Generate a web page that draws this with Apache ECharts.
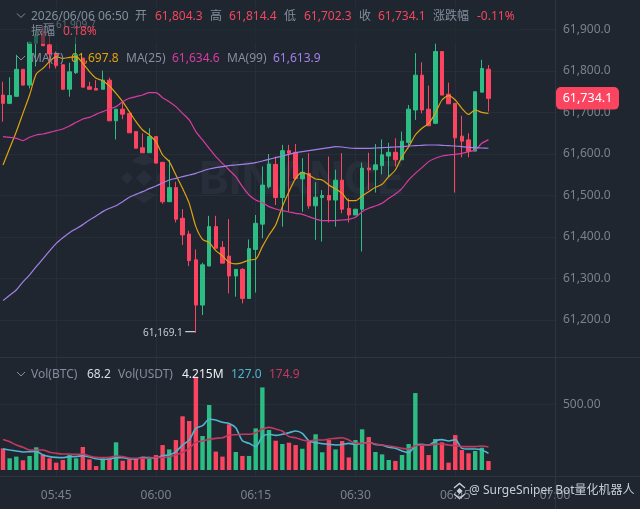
<!DOCTYPE html>
<html><head><meta charset="utf-8">
<style>html,body{margin:0;padding:0;background:#1f2630}#c{width:640px;height:509px}</style>
<script src="https://cdn.jsdelivr.net/npm/echarts@6/dist/echarts.min.js"></script>
</head><body><div id="c"></div>
<script>
const startMinute = 337; // 05:37
const xTickMinutes = [345,360,375,390,405,420];
const priceTicks = [61200,61300,61400,61500,61600,61700,61800,61900];
const volTicks = [500];
// [open, close, low, high]
const ohlc = [
[61742,61722,61678,61774],[61722,61741,61720,61785],[61739,61804,61738,61839],[61804,61766,61766,61804],
[61766,61869,61758,61871],[61867,61887,61811,61899],[61895,61861,61861,61909.7],[61863,61841,61806,61887],
[61843,61813,61806,61847],[61815,61756,61754,61815],[61756,61798,61738,61820],[61796,61839,61793,61883],
[61831,61761,61761,61831],[61762,61756,61756,61774],[61758,61754,61754,61778],[61756,61778,61756,61801],
[61778,61680,61680,61784],[61680,61708,61635,61708],[61708,61696,61684,61726],[61698,61651,61651,61698],
[61654,61614,61614,61654],[61615,61603,61603,61650],[61603,61642,61603,61662],[61642,61578,61578,61642],
[61580,61485,61480,61580],[61485,61519,61485,61586],[61519,61443,61435,61533],[61445,61405,61381,61467],
[61407,61343,61330,61415],[61345,61236,61169.1,61370],[61236,61333,61212,61338],[61330,61425,61330,61451],
[61425,61373,61373,61451],[61375,61337,61337,61390],[61354,61306,61264,61443],[61306,61322,61256,61322],
[61322,61252,61240,61325],[61252,61372,61252,61394],[61370,61433,61266,61453],[61431,61525,61397,61570],
[61521,61576,61517,61600],[61575,61495,61477,61594],[61495,61608,61425,61622],[61608,61602,61461,61622],
[61604,61541,61537,61624],[61540,61556,61461,61590],[61553,61475,61468,61602],[61475,61496,61393,61532],
[61495,61500,61389,61513],[61500,61489,61435,61594],[61489,61537,61425,61562],[61537,61467,61457,61602],
[61469,61453,61435,61493],[61453,61467,61453,61467],[61467,61566,61365,61579],[61566,61562,61513,61603],
[61562,61574,61507,61624],[61572,61598,61551,61635],[61595,61604,61545,61627],[61604,61586,61570,61638],
[61586,61631,61586,61654],[61628,61708,61618,61718],[61706,61790,61682,61843],[61790,61706,61698,61821],
[61708,61668,61668,61765],[61674,61847,61672,61867],[61847,61742,61742,61847],[61744,61721,61721,61772],
[61722,61639,61507,61722],[61643,61631,61592,61692],[61634,61606,61592,61650],[61607,61750,61607,61750],
[61749,61806,61749,61827],[61804.3,61734.1,61702.3,61814.4]];
const ma7 = [61573.5,61613.7,61653.8,61698,61742.2,61792.8,61806.4,61822.5,61834.6,61830.5,61833,61834.6,61818.5,61798.4,61782.4,61776.7,61763.9,61746.2,61726.1,61702,61677.9,61657.8,61645.8,61629.7,61597.6,61581.6,61549.4,61517.3,61481.1,61424.9,61394.4,61386.4,61367.1,61354.2,61339,61335,61338.2,61344.6,61346.2,61376.7,61404.8,61428.9,61473.1,61509.3,61541.4,61555.8,61549.4,61539.8,61537.4,61525.3,61515.7,61505.2,61487.6,61487.6,61498.8,61509.3,61519.7,61526.9,61545.4,61561.5,61593.6,61617.7,61645.8,61661.9,61673.9,61698,61730.1,61740.6,61730.1,61710.1,61695.6,61706,61700.4,61697.8];
const ma25 = [61641.8,61640.2,61637.8,61632.2,61640.2,61645.8,61648.2,61652.2,61656.2,61660.3,61667.5,61676.3,61684.4,61688.4,61695.6,61702,61708.5,61714.1,61726.1,61734.2,61738.2,61742.2,61747.8,61747.8,61735.8,61726.1,61714.1,61698,61682,61653.8,61633.8,61613.7,61593.6,61577.5,61561.5,61545.4,61521.3,61501.2,61489.2,61482.8,61473.1,61467.5,61463.5,61460.3,61457,61454.6,61449,61443.4,61439.4,61439.4,61439.4,61441,61442.6,61447.4,61461.1,61469.1,61474.7,61481.1,61493.2,61503.6,61517.3,61537.4,61553.4,61567.1,61581.6,61589.6,61595.2,61597.6,61599.2,61601.6,61605.6,61609.7,61625.7,61634.6];
const ma99 = [61246.6,61259.5,61272.3,61291.6,61308.5,61328.5,61347,61366.3,61384.8,61398.4,61410.5,61420.1,61429.8,61441,61450.6,61461.1,61469.1,61475.5,61485.2,61495.6,61502.8,61509.3,61516.5,61522.9,61530.1,61537.4,61541.4,61545.4,61549.4,61553.4,61559.1,61563.9,61567.1,61569.5,61571.9,61573.5,61575.1,61576.7,61579.1,61583.2,61587.2,61591.2,61595.2,61599.2,61603.2,61605.6,61608,61610.5,61612.9,61615.3,61617.7,61616.9,61614.5,61613.7,61613.7,61613.7,61614.5,61615.3,61616.1,61616.9,61617.7,61619.3,61620.1,61620.9,61621.7,61621.7,61620.9,61620.1,61619.3,61617.7,61616.1,61615.3,61614.5,61613.9];
const volume = [165,89,102,74,107,173,119,89,56,76,114,89,175,81,30,89,89,211,71,81,84,102,89,114,190,157,228,409,373,711,259,495,140,102,348,137,107,107,317,629,305,223,198,208,190,162,216,272,135,228,157,221,96,228,310,251,137,119,76,69,114,198,586,185,114,236,211,56,266,152,127,145,170,68.2];
const volMa5 = [160,152,145,137,140,142,114,102,96,94,102,102,109,99,86,81,84,94,94,84,84,94,94,91,109,114,140,190,228,317,338,386,381,363,355,322,223,203,178,254,272,264,272,284,297,279,221,208,201,195,190,195,203,195,203,211,195,190,173,165,145,132,185,195,190,221,231,221,231,165,160,160,152,127];
const volMa10 = [233,216,190,173,152,152,152,135,127,122,122,119,122,107,96,94,96,107,102,91,89,89,91,96,94,102,114,135,165,211,221,233,241,246,266,269,272,272,284,312,325,312,297,254,246,228,221,228,228,236,241,246,228,203,203,208,198,190,183,175,165,160,185,190,190,195,198,190,185,178,178,178,183,174.9];
const lastPrice = 61734.1;
const lowPrice = 61169.1, lowIndex = 29;
const highPrice = 61909.7, highIndex = 6;
const headerRow1 = [[31,'2026/06/06 06:50','#848e9c'],[135,'开','#848e9c'],[155,'61,804.3','#f6465d'],[210,'高','#848e9c'],[229,'61,814.4','#f6465d'],[284,'低','#848e9c'],[304,'61,702.3','#f6465d'],[359,'收','#848e9c'],[378,'61,734.1','#f6465d'],[433,'涨跌幅','#848e9c'],[477,'-0.11%','#f6465d']];
const headerRow2 = [[31,'振幅','#848e9c'],[63,'0.18%','#f6465d']];
const maRow = [[31,'MA(7)','#848e9c'],[71,'61,697.8','#e0a30f'],[126,'MA(25)','#848e9c'],[172,'61,634.6','#d93ba3'],[227,'MA(99)','#848e9c'],[273,'61,613.9','#a57fe8']];
const volRow = [[31,'Vol(BTC)','#848e9c'],[87,'68.2','#d8dce2'],[118,'Vol(USDT)','#848e9c'],[182,'4.215M','#eef0f3'],[231,'127.0','#4fb6cf'],[269,'174.9','#c23a62']];

const UP='#2cbd84', DOWN='#fb4560', BG='#1f2630', GRID='#272e39', BORDER='#2d3541', FONT='"Noto Sans","Noto Sans CJK SC",sans-serif';
const xs = ohlc.map((_,i)=>startMinute+i);
const fmtT = m => String(Math.floor(m/60)).padStart(2,'0')+':'+String(m%60).padStart(2,'0');
const fmtP = v => v.toLocaleString('en-US',{minimumFractionDigits:1,maximumFractionDigits:1});
const line=(name,arr,color,w,xi,yi,z)=>({name,type:'line',data:arr.map((v,i)=>[xs[i],v]),xAxisIndex:xi,yAxisIndex:yi,showSymbol:false,smooth:0.25,lineStyle:{color,width:w},z:z||3,silent:true});
const rows=[[17,headerRow1],[32,headerRow2],[59,maRow],[375,volRow]];
const gfx=[];
function dm(cx,cy,r,fill,z){return {type:'polygon',shape:{points:[[cx,cy-r],[cx+r,cy],[cx,cy+r],[cx-r,cy]]},style:{fill},z:z,silent:true};}
function chev(cx,cy,r,dx,dy,fill,z){
  const t=r*0.42;
  const pts=[[cx,cy+dy*r],[cx+r,cy],[cx+r-t,cy+dy*t],[cx,cy+dy*(r-t*2)],[cx-r+t,cy+dy*t],[cx-r,cy]];
  return {type:'polygon',shape:{points:pts},style:{fill},z:z,silent:true};
}
const wm='#282f3a';
gfx.push(dm(144,178,8,wm,0),dm(127,178,6,wm,0),dm(161,178,6,wm,0),chev(144,168,22,0,-0.7,wm,0),chev(144,188,22,0,0.7,wm,0));
gfx.push({type:'text',style:{x:199,y:180,text:'BINANCE',fill:wm,font:'bold 45px Inter,sans-serif',textVerticalAlign:'middle',letterSpacing:1},z:0,silent:true});
gfx.push({type:'rect',shape:{x:28,y:6,width:492,height:38},style:{fill:'rgba(31,38,48,0.62)'},z:20,silent:true});
rows.forEach(([y,items])=>items.forEach(([x,t,c])=>gfx.push({type:'text',style:{x,y,text:t,fill:c,font:'12px '+FONT,textVerticalAlign:'middle'},z:21,silent:true})));
[15.5,58,374].forEach(y=>gfx.push({type:'polyline',shape:{points:[[17,y-2],[21,y+2],[25,y-2]]},style:{stroke:'#848e9c',fill:'none',lineWidth:1},z:21,silent:true}));
[[0,357.5,640,357.5],[0,476.5,640,476.5],[555.5,0,555.5,509]].forEach(s=>gfx.push({type:'line',shape:{x1:s[0],y1:s[1],x2:s[2],y2:s[3]},style:{stroke:BORDER,lineWidth:1},z:1,silent:true}));
gfx.push({type:'text',style:{x:469,y:491,text:'@ SurgeSniper Bot量化机器人',fill:'#c9ced6',font:'12px '+FONT,textVerticalAlign:'middle'},z:21,silent:true});
gfx.push(dm(459.5,491,3,'#c9ced6',21));
gfx.push({type:'polyline',shape:{points:[[454,488],[459.5,483.5],[465,488]]},style:{stroke:'#c9ced6',fill:'none',lineWidth:1.4},z:21,silent:true});
gfx.push({type:'polyline',shape:{points:[[454,494],[459.5,498.5],[465,494]]},style:{stroke:'#c9ced6',fill:'none',lineWidth:1.4},z:21,silent:true});

const chart=echarts.init(document.getElementById('c'),null,{renderer:'canvas'});
const xCommon={type:'value',min:336.55,max:420,axisLine:{show:false},axisTick:{show:false,customValues:xTickMinutes},splitLine:{show:true,lineStyle:{color:GRID,width:1}}};
const hidden={symbol:'circle',symbolSize:1,itemStyle:{color:'rgba(0,0,0,0)'}};
chart.setOption({
  animation:false,backgroundColor:BG,textStyle:{fontFamily:FONT},
  grid:[{left:0,top:0,width:555,height:358},{left:0,top:358,width:555,height:119}],
  xAxis:[
    {...xCommon,gridIndex:0,axisLabel:{show:false}},
    {...xCommon,gridIndex:1,axisLabel:{show:true,color:'#7a828e',fontSize:12,margin:13,customValues:xTickMinutes,formatter:v=>fmtT(v),hideOverlap:false}}
  ],
  yAxis:[
    {type:'value',gridIndex:0,position:'right',min:61108.4,max:61971.1,scale:true,axisLine:{show:false},axisTick:{show:false,customValues:priceTicks},splitLine:{show:true,lineStyle:{color:GRID}},axisLabel:{color:'#7a828e',fontSize:12,margin:8,customValues:priceTicks,formatter:v=>fmtP(v)}},
    {type:'value',gridIndex:1,position:'right',min:-53.3,max:853,axisLine:{show:false},axisTick:{show:false,customValues:volTicks},splitLine:{show:true,lineStyle:{color:GRID}},axisLabel:{color:'#7a828e',fontSize:12,margin:8,customValues:volTicks,formatter:v=>v.toFixed(2)}}
  ],
  series:[
    {name:'K',type:'candlestick',xAxisIndex:0,yAxisIndex:0,barWidth:4,clip:false,silent:true,z:2,
      data:ohlc.map((d,i)=>[xs[i],d[0],d[1],d[2],d[3]]),
      itemStyle:{color:UP,color0:DOWN,borderColor:UP,borderColor0:DOWN,borderWidth:1},
      markPoint:{silent:true,animation:false,data:[
        {coord:[xs[73],lastPrice],...hidden,label:{show:true,position:'inside',offset:[99,0],formatter:fmtP(lastPrice),color:'#fff',fontSize:12.5,backgroundColor:'#fb4560',borderRadius:5,padding:[5,5,5,5],width:53,align:'center',verticalAlign:'middle'}},
        {coord:[xs[lowIndex],lowPrice],...hidden,label:{show:true,position:'left',distance:0,formatter:'61,169.1 ━',color:'#c8ccd2',fontSize:10}},
        {coord:[xs[highIndex],highPrice],...hidden,label:{show:true,position:'right',distance:0,formatter:'━ 61,909.7',color:'#c8ccd2',fontSize:10}}
      ]}},
    line('MA7',ma7,'#e0a30f',1.2,0,0),
    line('MA25',ma25,'#d93ba3',1.2,0,0),
    line('MA99',ma99,'#a57fe8',1.2,0,0),
    {name:'Vol',type:'bar',xAxisIndex:1,yAxisIndex:1,barWidth:4.4,silent:true,
      data:volume.map((v,i)=>({value:[xs[i],v],itemStyle:{color:ohlc[i][1]>=ohlc[i][0]?UP:DOWN}}))},
    line('VolMA5',volMa5,'#4fb6cf',1.6,1,1,4),
    line('VolMA10',volMa10,'#c23a62',1.6,1,1,4)
  ],
  graphic:{elements:gfx}
});
</script></body></html>
